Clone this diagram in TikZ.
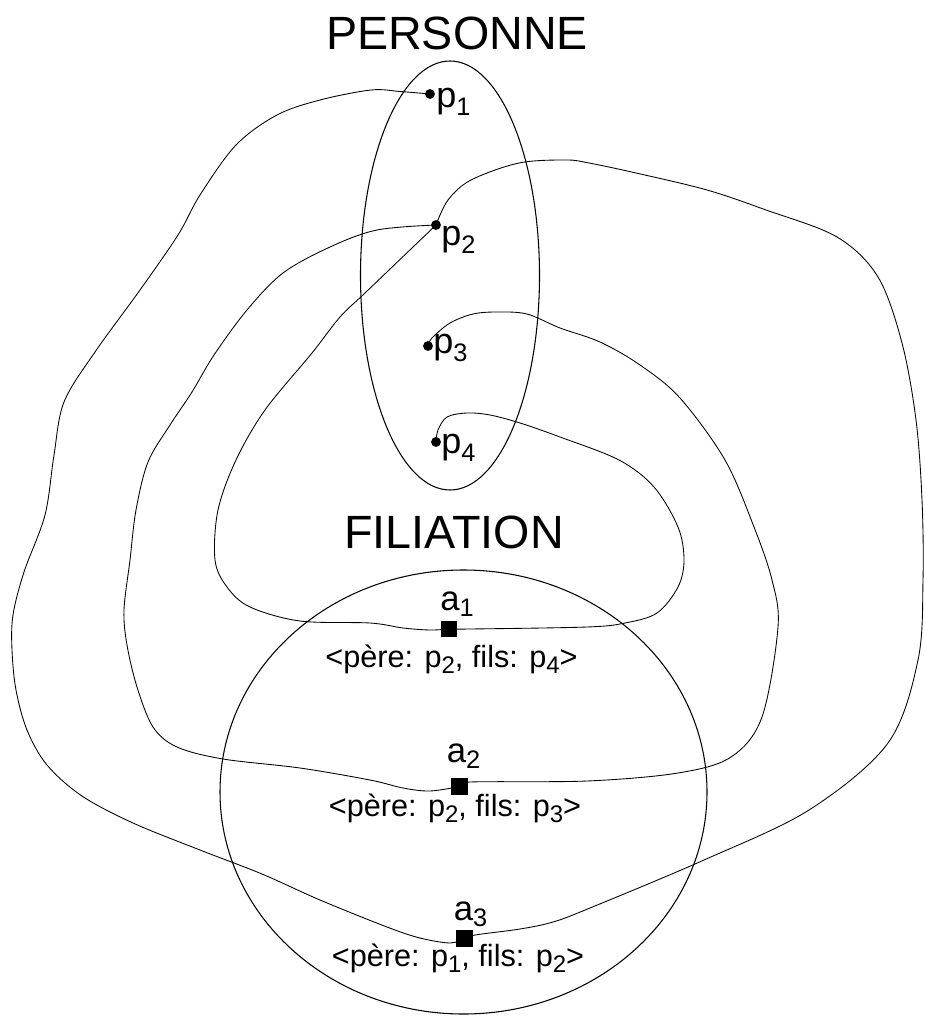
\documentclass[tikz,border=0pt]{standalone}
\usepackage{fontspec}
\setmainfont{Liberation Sans}
\usetikzlibrary{shapes.geometric}
\newcommand{\subd}[3]{\raisebox{-#1}{\fontsize{#2}{#2}\selectfont #3}}
\begin{document}
\begin{tikzpicture}[x=0.75pt,y=-0.75pt,
  dot/.style={circle,fill=black,inner sep=0pt,minimum size=7.4pt},
  sq/.style={rectangle,fill=black,inner sep=0pt,minimum size=12.4pt},
  lnk/.style={line width=0.65pt},
  setshape/.style={draw,ellipse,line width=0.8pt,inner sep=0pt},
  ttl/.style={inner sep=0pt,anchor=base,font=\fontsize{35}{40}\selectfont},
  plab/.style={inner sep=0pt,anchor=base west,font=\fontsize{27}{30}\selectfont},
  alab/.style={inner sep=0pt,anchor=base west,font=\fontsize{26}{30}\selectfont},
  tup/.style={inner sep=0pt,anchor=base,font=\fontsize{23}{28}\selectfont}]
\useasboundingbox (0,0) rectangle (924,1016);

% sets
\node[setshape,minimum width=134.25pt,minimum height=321.75pt] (personne) at (450,275.5) {};
\node[setshape,minimum width=365.25pt,minimum height=333pt] (filiation) at (463.5,792) {};
\node[ttl] (tp) at (457,50) {PERSONNE};
\node[ttl] (tf) at (454,548) {FILIATION};

% elements
\coordinate (p1) at (430,94);
\coordinate (p2) at (436,225);
\coordinate (p3) at (428,346);
\coordinate (p4) at (436,442);
\coordinate (a1) at (449,629);
\coordinate (a2) at (459.5,786.5);
\coordinate (a3) at (464.5,938.5);

% links
\draw[lnk] plot[smooth,tension=0.55] coordinates {(p1) (400,91.5) (371,90) (320,100) (277,115) (236,145) (200,195) (178,235) (140,290) (95,352) (64,402) (54,455) (45,515) (24,572) (13,615) (12,650) (16,690) (27,730) (47,765) (82,796) (133,823) (200,850) (262,874) (320,900) (387,927) (420,938) (450,943) (a3)};
\draw[lnk] plot[smooth,tension=0.55] coordinates {(a3) (475,935) (520,929) (553,922) (590,908) (704,860) (809,810) (888,743) (918,660) (923,580) (922,500) (916,420) (902,343) (878,277) (837,237) (766,210) (707,190) (636,173) (589,163) (566,160) (519,163) (471,180) (448,200) (p2)};
\draw[lnk] plot[smooth,tension=0.55] coordinates {(p2) (377,230) (330,247) (283,273) (247,310) (214,355) (192,392) (170,425) (148,462) (136,510) (130,560) (124,610) (127,645) (137,687) (153,727) (177,747) (223,759) (300,768) (370,780) (403,788) (430,791) (a2)};
\draw[lnk] plot[smooth,tension=0.55] coordinates {(a2) (470,782) (587,781) (678,773) (731,757) (762,717) (778,627) (772,580) (754,527) (725,460) (680,398) (640,365) (600,342) (560,328) (527,314) (497,312) (473,314) (450,323) (432,338) (p3)};
\draw[lnk] plot[smooth,tension=0.55] coordinates {(p2) (365,293) (340,317) (312,353) (265,410) (236,460) (218,510) (215,560) (227,587) (250,607) (300,621) (370,623) (403,628) (430,630) (a1)};
\draw[lnk] plot[smooth,tension=0.55] coordinates {(a1) (470,629) (587,627) (625,623) (657,613) (678,587) (684,560) (678,527) (654,487) (619,460) (560,437) (520,423) (490,415) (467,413) (447,417) (438,430) (p4)};

% markers on top
\node[dot] (d1) at (p1) {};
\node[dot] (d2) at (p2) {};
\node[dot] (d3) at (p3) {};
\node[dot] (d4) at (p4) {};
\node[sq] (s1) at (a1) {};
\node[sq] (s2) at (a2) {};
\node[sq] (s3) at (a3) {};

% labels
\node[plab] (lp1) at (436,108) {p\subd{6pt}{19}{1}};
\node[plab] (lp2) at (441,245) {p\subd{6pt}{19}{2}};
\node[plab] (lp3) at (433,353.5) {p\subd{6pt}{19}{3}};
\node[plab] (lp4) at (441,453.5) {p\subd{6pt}{19}{4}};
\node[alab] (la1) at (440,610) {a\subd{5pt}{19}{1}};
\node[alab] (la2) at (446.5,762) {a\subd{5pt}{19}{2}};
\node[alab] (la3) at (453.5,920) {a\subd{5pt}{19}{3}};
\node[tup] (t1) at (451.5,667) {<père: p\subd{5pt}{18}{2}, fils: p\subd{5pt}{18}{4}>};
\node[tup] (t2) at (455,816) {<père: p\subd{5pt}{18}{2}, fils: p\subd{5pt}{18}{3}>};
\node[tup] (t3) at (458,966) {<père: p\subd{5pt}{18}{1}, fils: p\subd{5pt}{18}{2}>};
\end{tikzpicture}
\end{document}
